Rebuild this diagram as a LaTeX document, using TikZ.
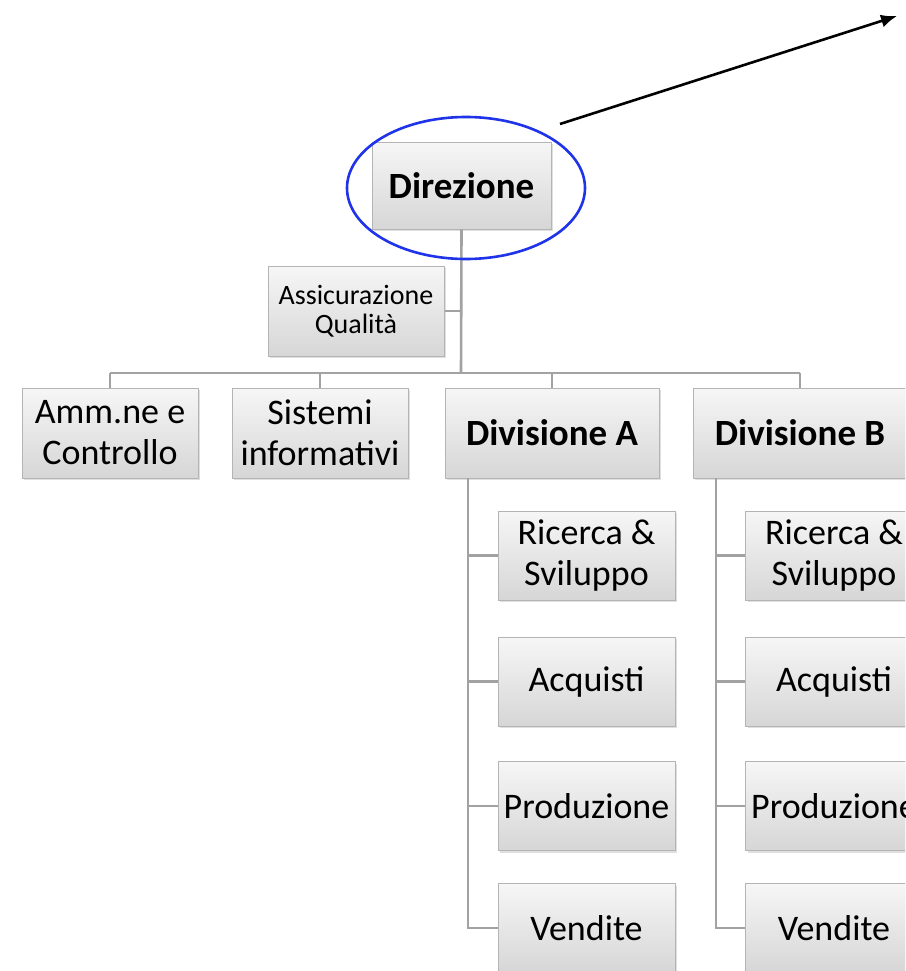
\documentclass[tikz,border=0pt]{standalone}
\usepackage{fontspec}
\setmainfont{Carlito}
\usetikzlibrary{shapes.geometric,shadows,arrows.meta}
\definecolor{linegray}{HTML}{A2A2A2}
\definecolor{boxedge}{HTML}{B4B4B4}
\definecolor{ellblue}{HTML}{1F33E8}
\tikzset{
  orgbox/.style={draw=boxedge, line width=1pt, top color=gray!7, bottom color=gray!32,
    drop shadow={opacity=0.25, shadow xshift=2pt, shadow yshift=-2pt},
    align=center, inner sep=0pt, font=\fontsize{36}{41}\selectfont},
  boldbox/.style={orgbox, font=\fontsize{37}{41}\selectfont\bfseries},
  conn/.style={draw=linegray, line width=2.6pt},
}
\begin{document}
\begin{tikzpicture}[x=1pt,y=-1pt]
\useasboundingbox (0,0) rectangle (905,971);
\clip (0,0) rectangle (905,971);
% boxes
\node[boldbox, minimum width=179pt, minimum height=87pt] (dir) at (461.5,185.5) {Direzione};
\node[orgbox, minimum width=176pt, minimum height=90pt, font=\fontsize{28}{29}\selectfont] (ass) at (356,311) {Assicurazione\\Qualità};
\node[orgbox, minimum width=176pt, minimum height=90pt] (amm) at (110,433) {Amm.ne e\\Controllo};
\node[orgbox, minimum width=176pt, minimum height=90pt] (sis) at (320,433) {Sistemi\\informativi};
\node[boldbox, minimum width=214pt, minimum height=90pt] (diva) at (552,433) {Divisione A};
\node[boldbox, minimum width=214pt, minimum height=90pt] (divb) at (800,433) {Divisione B};
\foreach \col/\cx in {a/586.5, b/834}{
  \node[orgbox, minimum width=177pt, minimum height=89pt] (ric\col) at (\cx,555.5) {Ricerca \&\\Sviluppo};
  \node[orgbox, minimum width=177pt, minimum height=89pt] (acq\col) at (\cx,681.5) {Acquisti};
  \node[orgbox, minimum width=177pt, minimum height=89pt] (pro\col) at (\cx,806) {Produzione};
  \node[orgbox, minimum width=177pt, minimum height=89pt] (ven\col) at (\cx,928) {Vendite};
}
% connectors
\coordinate (bus) at (461,373);
\coordinate (busL) at (110,373);
\coordinate (busR) at (800,373);
\draw[conn] (dir.south) -- (bus);
\draw[conn] (ass.east) -- (ass.east -| bus);
\draw[conn] (busL) -- (busR);
\draw[conn] (busL) -- (amm.north);
\draw[conn] (sis.north |- bus) -- (sis.north);
\draw[conn] (diva.north |- bus) -- (diva.north);
\draw[conn] (busR) -- (divb.north);
\coordinate (va) at (468,478);
\coordinate (vb) at (716,478);
\draw[conn] (va) -- (va |- vena.west) -- (vena.west);
\draw[conn] (vb) -- (vb |- venb.west) -- (venb.west);
\foreach \col/\v in {a/va, b/vb}{
  \draw[conn] (\v |- ric\col.west) -- (ric\col.west);
  \draw[conn] (\v |- acq\col.west) -- (acq\col.west);
  \draw[conn] (\v |- pro\col.west) -- (pro\col.west);
}
% highlight
\node[ellipse, draw=ellblue, line width=2.6pt, minimum width=238pt, minimum height=142pt] (ell) at (466,188) {};
\coordinate (arrS) at (560,124);
\coordinate (arrE) at (897,16);
\draw[line width=2.6pt, -{Latex[length=16pt,width=13pt]}] (arrS) -- (arrE);
\end{tikzpicture}
\end{document}
